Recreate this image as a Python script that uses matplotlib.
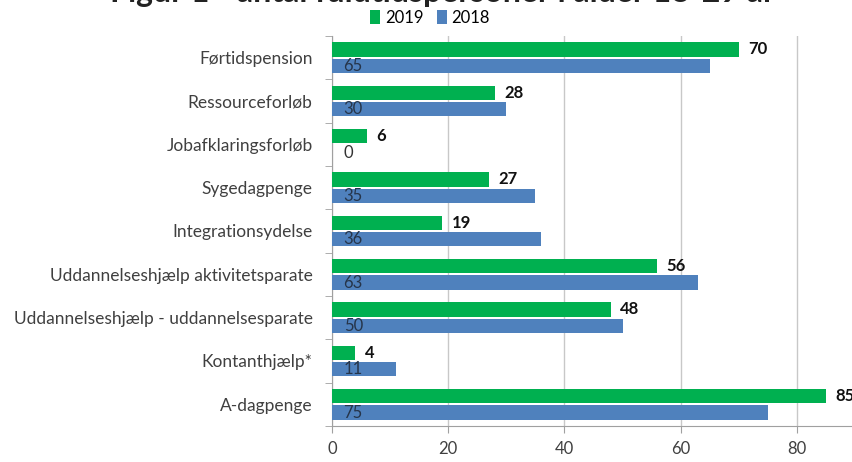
import matplotlib.pyplot as plt
import numpy as np

# ----------- DATA ------------
categories = ['Førtidspension', 'Ressourceforløb', 'Jobafklaringsforløb',
              'Sygedagpenge', 'Integrationsydelse',
              'Uddannelseshjælp aktivitetsparate',
              'Uddannelseshjælp - uddannelsesparate',
              'Kontanthjælp*', 'A-dagpenge']
values_2019 = [70, 28, 6, 27, 19, 56, 48, 4, 85]
values_2018 = [65, 30, 0, 35, 36, 63, 50, 11, 75]
xticks = [0, 20, 40, 60, 80]

green = '#00B050'
blue = '#4F81BD'
grid_col = '#C8C8C8'

plt.rcParams['font.family'] = ['Lato', 'DejaVu Sans']

fig = plt.figure(figsize=(8.53, 4.62), dpi=100)
ax = fig.add_axes([332 / 853, 36 / 462, (855 - 332) / 853, (426 - 36) / 462])

y = np.arange(len(categories))
h = 0.33
off = 0.19

ax.barh(y - off, values_2019, height=h, color=green, label='2019', zorder=3)
ax.barh(y + off, values_2018, height=h, color=blue, label='2018', zorder=3)

# value labels: 2019 bold outside, 2018 inside at start
for yi, v in zip(y, values_2019):
    ax.text(v + 1.6, yi - off, str(v), va='center', ha='left',
            fontsize=12, fontweight='bold', color='#111111', zorder=4)
for yi, v in zip(y, values_2018):
    ax.text(2.0, yi + off, str(v), va='center', ha='left',
            fontsize=12, color='#26354A' if v > 0 else '#333333', zorder=4)

ax.set_xlim(0, 90)
ax.set_ylim(len(categories) - 0.5, -0.5)
ax.set_xticks(xticks)
ax.set_yticks(np.arange(len(categories) + 1) - 0.5, minor=True)
ax.set_yticks(y)
ax.set_yticklabels(categories, fontsize=12.5, color='#404040')
ax.tick_params(axis='y', which='major', length=0, pad=14)
ax.tick_params(axis='y', which='minor', length=5, color='#A0A0A0')
ax.tick_params(axis='x', length=5, color='#A0A0A0', labelsize=12,
               labelcolor='#404040', pad=6)

ax.grid(axis='x', color=grid_col, linewidth=1, zorder=0)
for side in ['top', 'right']:
    ax.spines[side].set_visible(False)
for side in ['left', 'bottom']:
    ax.spines[side].set_color('#A0A0A0')

ax.legend(loc='center', bbox_to_anchor=(430 / 853, 1 - 18 / 462),
          bbox_transform=fig.transFigure, ncol=2, frameon=False,
          fontsize=12, handlelength=0.6, handleheight=0.9,
          handletextpad=0.3, columnspacing=0.8, borderaxespad=0)

# title, cropped at the top edge in the reference
fig.text(443 / 853, 1.018, 'Figur 1 - antal fuldtidspersoner i alder 18-29 år',
         ha='center', va='center', fontsize=23, fontweight='bold', color='#222222')

fig.savefig('out.png', dpi=100)
